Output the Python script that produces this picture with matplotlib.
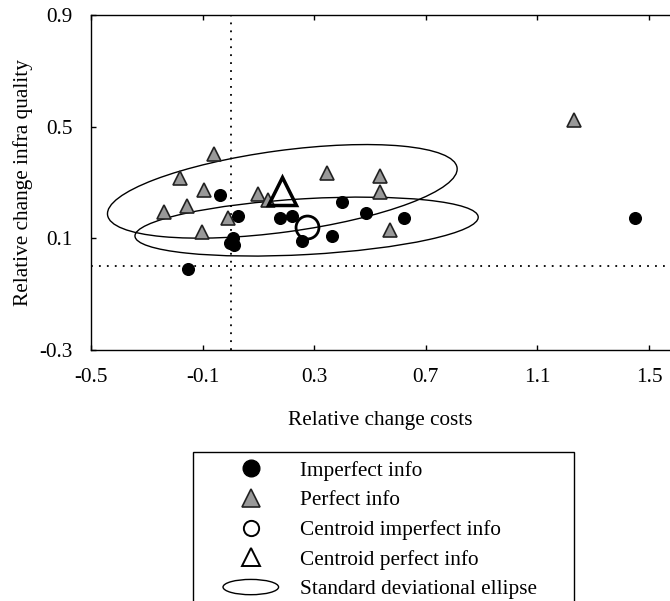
import numpy as np
import matplotlib
matplotlib.use("Agg")
import matplotlib.pyplot as plt
from matplotlib.patches import Ellipse
from matplotlib.lines import Line2D
from matplotlib.legend_handler import HandlerPatch

plt.rcParams['font.family'] = ['Liberation Serif', 'DejaVu Serif']
plt.rcParams['axes.unicode_minus'] = False

# dane
imperfect_x = [-0.154, -0.039, 0.026, -0.003, 0.008, 0.011, 0.176, 0.219, 0.255, 0.363, 0.399, 0.485, 0.621, 1.45]
imperfect_y = [-0.011, 0.254, 0.179, 0.082, 0.100, 0.075, 0.172, 0.179, 0.089, 0.107, 0.229, 0.190, 0.172, 0.172]
perfect_x = [-0.060, -0.182, -0.096, -0.157, -0.240, -0.010, -0.103, 0.097, 0.133, 0.345, 0.535, 0.535, 0.571, 1.231]
perfect_y = [0.401, 0.315, 0.272, 0.215, 0.193, 0.172, 0.122, 0.258, 0.236, 0.333, 0.322, 0.265, 0.129, 0.523]

# elipsy (szerokosc, wysokosc, kat)
ellipse_imperfect = [1.232, 0.20, 3.2]
ellipse_perfect = [1.264, 0.292, 7.7]

x_ticks = [-0.5, -0.1, 0.3, 0.7, 1.1, 1.5]
y_ticks = [-0.3, 0.1, 0.5, 0.9]

cx_imp, cy_imp = np.mean(imperfect_x), np.mean(imperfect_y)
cx_perf, cy_perf = np.mean(perfect_x), np.mean(perfect_y)


class HandlerEllipse(HandlerPatch):
    def create_artists(self, legend, orig_handle, xdescent, ydescent, width, height, fontsize, trans):
        center = (0.5 * width - xdescent, 0.5 * height - ydescent)
        p = Ellipse(xy=center, width=40, height=11, fill=False, edgecolor='black', linewidth=1.0)
        p.set_transform(trans)
        return [p]


fig = plt.figure(figsize=(6.70, 6.01), dpi=100)
ax = fig.add_axes([91 / 670, 251 / 601, 579 / 670, 335 / 601])

ax.axvline(0, color='black', linestyle=(0, (1, 3.4)), linewidth=1.3)
ax.axhline(0, color='black', linestyle=(0, (1, 3.4)), linewidth=1.3)

ax.add_patch(Ellipse((cx_perf, cy_perf), ellipse_perfect[0], ellipse_perfect[1], angle=ellipse_perfect[2],
                     fill=False, edgecolor='black', linewidth=1.0))
ax.add_patch(Ellipse((cx_imp, cy_imp), ellipse_imperfect[0], ellipse_imperfect[1], angle=ellipse_imperfect[2],
                     fill=False, edgecolor='black', linewidth=1.0))

ax.plot(perfect_x, perfect_y, linestyle='none', marker='^', markersize=9.5, markerfacecolor='#999999',
        markeredgecolor='#222222', markeredgewidth=1.2)
ax.plot(imperfect_x, imperfect_y, linestyle='none', marker='o', markersize=8.4, color='black')
ax.plot(cx_imp, cy_imp, marker='o', markersize=16.5, markerfacecolor='none', markeredgecolor='black',
        markeredgewidth=2.0)
ax.plot(cx_perf, cy_perf, marker='^', markersize=19.5, markerfacecolor='none', markeredgecolor='black',
        markeredgewidth=2.5)

ax.set_xlim(-0.5, 1.575)
ax.set_ylim(-0.3, 0.9)
ax.set_xticks(x_ticks)
ax.set_xticklabels([f"{v:.1f}" for v in x_ticks])
ax.set_yticks(y_ticks)
ax.set_yticklabels([f"{v:.1f}" for v in y_ticks])
ax.tick_params(direction='in', length=3.6, width=1, top=True, right=False, labelsize=15.3, pad=13)
ax.spines['right'].set_visible(False)
for s in ['left', 'bottom', 'top']:
    ax.spines[s].set_linewidth(1.0)

ax.set_xlabel("Relative change costs", fontsize=15.3, labelpad=17)
ax.set_ylabel("Relative change infra quality", fontsize=15.3, labelpad=4.5)

handles = [
    Line2D([], [], linestyle='none', marker='o', markersize=12, color='black'),
    Line2D([], [], linestyle='none', marker='^', markersize=13, markerfacecolor='#999999',
           markeredgecolor='#222222', markeredgewidth=1.2),
    Line2D([], [], linestyle='none', marker='o', markersize=11, markerfacecolor='none',
           markeredgecolor='black', markeredgewidth=1.4),
    Line2D([], [], linestyle='none', marker='^', markersize=12.5, markerfacecolor='none',
           markeredgecolor='black', markeredgewidth=1.4),
    Ellipse((0, 0), 1, 1, fill=False, edgecolor='black'),
]
labels = ["Imperfect info", "Perfect info", "Centroid imperfect info", "Centroid perfect info",
          "Standard deviational ellipse"]
leg = fig.legend(handles, labels, loc='upper left', bbox_to_anchor=(193 / 670, 0, 381 / 670, 1 - 452 / 601),
                 mode='expand', fontsize=15.3, frameon=True, fancybox=False, edgecolor='black',
                 framealpha=1, borderpad=0.42, handlelength=4.6, handletextpad=0.0, labelspacing=0.46,
                 borderaxespad=0, handler_map={Ellipse: HandlerEllipse()})
leg.get_frame().set_linewidth(1.0)

fig.savefig("out.png", dpi=100)
